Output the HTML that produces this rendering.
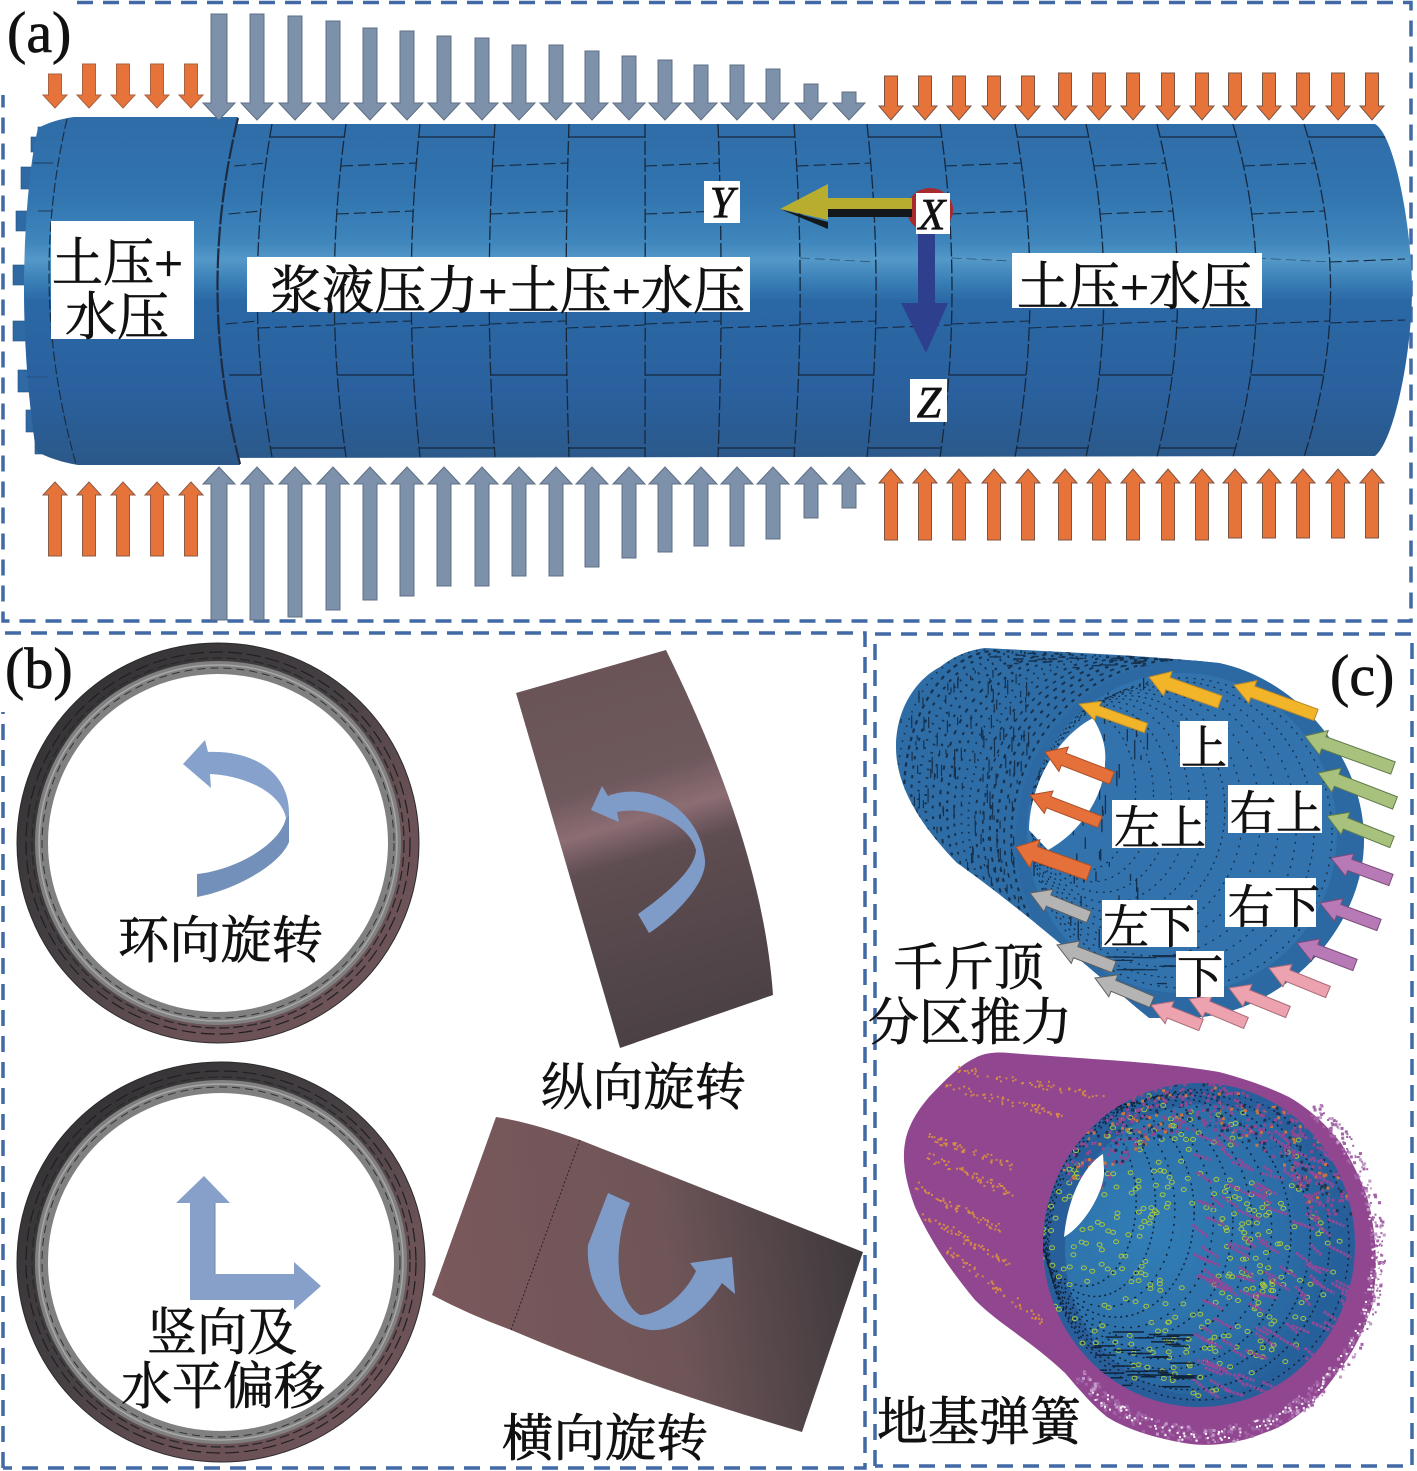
<!DOCTYPE html>
<html lang="zh"><head><meta charset="utf-8"><title>Diagram</title>
<style>html,body{margin:0;padding:0;background:#fff}svg{display:block}
text{font-family:"Liberation Serif","Noto Serif CJK SC",serif;fill:#111;stroke:#111;stroke-width:.7}</style></head>
<body>
<svg id="s" xmlns="http://www.w3.org/2000/svg" width="1417" height="1471" viewBox="0 0 1417 1471">
<defs>
<linearGradient id="tube" gradientUnits="userSpaceOnUse" x1="0" y1="117" x2="0" y2="465">
<stop offset="0" stop-color="#2f6ca8"/><stop offset=".22" stop-color="#3174af"/><stop offset=".36" stop-color="#3f86bc"/><stop offset=".41" stop-color="#5498c8"/><stop offset=".47" stop-color="#3a80b7"/><stop offset=".53" stop-color="#2a68a5"/><stop offset=".8" stop-color="#2a609d"/><stop offset="1" stop-color="#2b5888"/></linearGradient>
<linearGradient id="ring" x1="0" y1="0" x2="1" y2="1"><stop offset="0" stop-color="#2f2e30"/><stop offset=".45" stop-color="#454043"/><stop offset=".7" stop-color="#6b5256"/><stop offset="1" stop-color="#6d5458"/></linearGradient>
<linearGradient id="blk1" gradientUnits="userSpaceOnUse" x1="596" y1="672" x2="700" y2="1022"><stop offset="0" stop-color="#6a5457"/><stop offset=".3" stop-color="#6d585c"/><stop offset=".42" stop-color="#8c6d74"/><stop offset=".52" stop-color="#5e4d51"/><stop offset="1" stop-color="#4b4145"/></linearGradient>
<linearGradient id="blk2" gradientUnits="userSpaceOnUse" x1="432" y1="1300" x2="863" y2="1240"><stop offset="0" stop-color="#7a585b"/><stop offset=".55" stop-color="#6f5558"/><stop offset=".72" stop-color="#5b4a4d"/><stop offset="1" stop-color="#3d383b"/></linearGradient>
<radialGradient id="disc" gradientUnits="userSpaceOnUse" cx="1150" cy="1230" r="190"><stop offset="0" stop-color="#327eb6"/><stop offset=".7" stop-color="#2c6ea8"/><stop offset="1" stop-color="#25609a"/></radialGradient>
<clipPath id="tubeclip"><path d="M200,124H1375C1395,135 1412,230 1412,290C1412,350 1395,440 1375,456L200,458Z"/></clipPath>
<clipPath id="cyl"><path d="M985,648C1060,652 1140,655 1219,663C1300,680 1364,760 1364,840C1364,930 1280,1018 1184,1018L1149,1018C1080,960 1010,900 957,863C925,830 896,790 896,747C896,710 915,680 940,667C955,655 970,650 985,648Z"/></clipPath>
<clipPath id="ins"><ellipse cx="1182" cy="833" rx="155" ry="160"/></clipPath>
<clipPath id="disc2"><ellipse cx="1199" cy="1245" rx="156" ry="162"/></clipPath>
</defs>
<rect width="1417" height="1471" fill="#fff"/>

<!-- frames -->
<g fill="none" stroke="#4169a6" stroke-width="3.5" stroke-dasharray="16 10">
<path d="M77,2.5H1411V621H3V95"/>
<path d="M3,1468V712M5,633H865V1468H3"/>
<path d="M875,1466V634H1412V1466H875"/>
</g>

<!-- (a) tunnel -->
<g id="bumps" fill="#2f6aa5" stroke="#24527f" stroke-width=".6"></g>
<path d="M200,124H1375C1395,135 1412,230 1412,290C1412,350 1395,440 1375,456L200,458Z" fill="url(#tube)"/>
<path d="M74,117L238,117Q196,290 240,465L78,465C60,462 40,455 36,450C28,400 24,340 24,290C24,240 28,170 38,128C50,122 60,119 74,117Z" fill="url(#tube)"/>
<path d="M238,118Q196,290 240,464" fill="none" stroke="#1d2c42" stroke-width="2.2" stroke-dasharray="20 2"/>
<path d="M67,119Q27,290 76,464" fill="none" stroke="#1a2f48" stroke-width="1.2" stroke-dasharray="10 3"/>
<g stroke="#1f3a5c" stroke-width="1.1" fill="none"><path d="M33,163H53M38,211H52"/><path d="M26,377H48" opacity=".5"/></g>
<g id="seams" fill="none" stroke="#16283e" clip-path="url(#tubeclip)"></g>
<g id="arrowsA"></g>

<!-- axes -->
<ellipse cx="930" cy="210" rx="23" ry="22" fill="#a82a2a"/>
<path d="M828,209V217L912,217V209Z" fill="#14181c"/>
<path d="M780,209L828,222V229Z" fill="#14181c"/>
<path d="M780,209L828,184V198L912,198V209L828,209V220Z" fill="#b8ad2e"/>
<path d="M918,231H935V303H948L926,353L901,303H918Z" fill="#2e3f8e"/>

<g fill="#fff">
<rect x="51" y="221" width="143" height="118"/>
<rect x="247" y="257" width="503" height="55"/>
<rect x="1012" y="253" width="250" height="55"/>
<rect x="704" y="181" width="36" height="42"/>
<rect x="916" y="193" width="34" height="41"/>
<rect x="910" y="379" width="37" height="43"/>
</g>
<text x="52" y="281" font-size="52" textLength="131" lengthAdjust="spacingAndGlyphs">土压+</text>
<text x="65" y="335" font-size="52" textLength="104" lengthAdjust="spacingAndGlyphs">水压</text>
<text x="270" y="309" font-size="52" textLength="475" lengthAdjust="spacingAndGlyphs">浆液压力+土压+水压</text>
<text x="1017" y="305" font-size="52" textLength="235" lengthAdjust="spacingAndGlyphs">土压+水压</text>
<g font-size="44" font-style="italic" text-anchor="middle">
<text x="722" y="217">Y</text><text x="932" y="229">X</text><text x="929" y="417">Z</text></g>
<text x="7" y="52" font-size="58">(a)</text>

<!-- (b) -->
<g id="rings"></g>
<path d="M183,764L205,740L208,752C250,750 290,770 289,815L286,818C280,790 240,775 210,774L211,788Z" fill="#86a2cc"/>
<path d="M289,815L289,842C280,865 235,890 197,897L197,874C235,870 280,845 286,818Z" fill="#7390bb"/>
<path d="M516,693L666,650C720,760 765,880 773,995L620,1048Z" fill="url(#blk1)"/>
<path d="M591,810L602,786L608,796C650,780 700,810 705,860C707,885 670,920 649,933L638,914C665,895 695,870 696,850C690,825 650,805 617,812L619,822Z" fill="#7f9cc8"/>
<path d="M496,1117Q530,1122 580,1140Q720,1195 863,1252L802,1432Q640,1385 511,1330Q470,1315 432,1295Z" fill="url(#blk2)"/>
<path d="M580,1140L511,1330" stroke="#2a2226" stroke-width="1" stroke-dasharray="2 2" fill="none"/>
<path d="M608,1193L630,1203C612,1245 615,1300 640,1315C660,1315 685,1295 696,1271L690,1263L732,1257L735,1294L722,1283C705,1310 680,1332 650,1330C615,1325 585,1290 588,1245Z" fill="#7f9cc8"/>
<path d="M190,1300V1203H176L204,1176L230,1203H215V1274H294V1262L321,1286L294,1310V1300Z" fill="#87a0c9"/>
<path d="M215,1203V1274" stroke="#6f88b2" stroke-width="1"/>
<g font-size="51">
<text x="118" y="958" textLength="205" lengthAdjust="spacingAndGlyphs">环向旋转</text>
<text x="541" y="1105" textLength="205" lengthAdjust="spacingAndGlyphs">纵向旋转</text>
<text x="502" y="1456" textLength="206" lengthAdjust="spacingAndGlyphs">横向旋转</text>
<text x="147" y="1350" textLength="150" lengthAdjust="spacingAndGlyphs">竖向及</text>
<text x="121" y="1404" textLength="204" lengthAdjust="spacingAndGlyphs">水平偏移</text>
</g>
<text x="5" y="688" font-size="58">(b)</text>

<!-- (c) top -->
<path d="M985,648C1060,652 1140,655 1219,663C1300,680 1364,760 1364,840C1364,930 1280,1018 1184,1018L1149,1018C1080,960 1010,900 957,863C925,830 896,790 896,747C896,710 915,680 940,667C955,655 970,650 985,648Z" fill="#2e6ca6"/>
<g id="shell" clip-path="url(#cyl)" fill="none" stroke="#17324f"></g>
<ellipse cx="1190" cy="840" rx="174" ry="180" fill="#2c69a3" clip-path="url(#cyl)"/>
<ellipse cx="1182" cy="833" rx="155" ry="160" fill="#3273ae"/>
<g id="inner" clip-path="url(#ins)" fill="none" stroke="#14304d"></g>
<path d="M1093,718C1060,735 1030,780 1029,830L1048,850C1085,830 1105,790 1105,763C1107,745 1100,730 1093,718Z" fill="#fff"/>
<g id="arrowsC"></g>
<g fill="#fff">
<rect x="1180" y="721" width="48" height="46"/>
<rect x="1112" y="800" width="93" height="48"/>
<rect x="1228" y="785" width="94" height="48"/>
<rect x="1225" y="878" width="91" height="49"/>
<rect x="1102" y="900" width="95" height="47"/>
<rect x="1176" y="951" width="48" height="46"/>
</g>
<g font-size="46">
<text x="1181" y="764">上</text>
<text x="1114" y="844">左上</text>
<text x="1230" y="829">右上</text>
<text x="1228" y="923">右下</text>
<text x="1103" y="943">左下</text>
<text x="1177" y="993">下</text>
</g>
<g font-size="51">
<text x="893" y="985" textLength="151" lengthAdjust="spacingAndGlyphs">千斤顶</text>
<text x="868" y="1040" textLength="204" lengthAdjust="spacingAndGlyphs">分区推力</text>
</g>
<text x="1330" y="695" font-size="58">(c)</text>

<!-- (c) bottom -->
<path d="M975,1058C985,1052 1000,1052 1009,1053C1100,1060 1160,1062 1219,1072C1250,1080 1275,1090 1289,1097C1315,1112 1330,1130 1341,1143C1360,1175 1370,1200 1372,1220C1378,1250 1376,1285 1372,1307C1362,1335 1350,1358 1337,1373C1315,1405 1290,1425 1264,1433C1235,1445 1205,1447 1184,1443C1155,1438 1128,1430 1107,1417C1090,1403 1078,1388 1065,1373C1030,1340 1000,1325 975,1300C950,1270 930,1240 915,1207C905,1180 902,1160 905,1143C908,1125 918,1110 929,1097C945,1080 960,1065 975,1058Z" fill="#914790"/>
<g id="specks"></g>
<ellipse cx="1199" cy="1245" rx="156" ry="162" fill="#285f9b"/>
<ellipse cx="1205" cy="1250" rx="140" ry="146" fill="url(#disc)"/>
<g id="inner2" clip-path="url(#disc2)"></g>
<path d="M1103,1154C1085,1165 1068,1195 1064,1237C1085,1225 1105,1190 1104,1170Z" fill="#fff"/>
<text x="877" y="1440" font-size="52" textLength="204" lengthAdjust="spacingAndGlyphs">地基弹簧</text>
</svg>
<script>
(function(){
var NS="http://www.w3.org/2000/svg";
function el(p,n,a){var e=document.createElementNS(NS,n);for(var k in a)e.setAttribute(k,a[k]);document.getElementById(p).appendChild(e);return e}
var seed=12345;function R(){seed=(seed*1664525+1013904223)%4294967296;return seed/4294967296}

/* cutter bumps */
[[38,127,12,14],[31,137,8,15],[21,167,10,22],[16,211,12,20],[13,265,12,20],[13,321,12,20],[18,370,10,22],[26,410,9,22],[35,440,8,14]].forEach(function(b){el("bumps","rect",{x:b[0],y:b[1],width:b[2]+8,height:b[3]})});

/* ring seams */
var xs=[241,272,346,420,495,569,645,718,794,867,940,1015,1086,1157,1233,1304];
function off(x){return (x-640)*0.04}
function X(x0,y){var t=(y-290)/167;return x0+off(x0)*(1-t*t)}
xs.slice(1).forEach(function(x){
 el("seams","path",{d:"M"+x+",124Q"+(x+2*off(x))+",290 "+x+",457","stroke-width":1.3,"stroke-dasharray":"14 3"});
});
var A=[137,325,448],B=[163,211,321,375];
for(var i=0;i<xs.length;i++){
 var a=xs[i],b=i+1<xs.length?xs[i+1]:1405;
 var ys=i==15?[137,259,320]:(i%2?A:B);
 ys.forEach(function(y){
  var solid=y==137||y==448||y==375;
  el("seams","path",{d:"M"+X(a,y)+","+(y+(solid?0:3))+"L"+(i==15?b:X(b,y))+","+y,"stroke-width":solid?1.3:1.1,"stroke-dasharray":solid?"none":"12 5"});
 });
 if(i%2==0&&i>4)el("seams","path",{d:"M"+X(a,259)+",258L"+X(b,262)+",262","stroke-width":.8,"stroke-dasharray":"10 5",opacity:.6});
}

/* vertical arrows */
function varrow(g,x,t0,tip,sw,hw,hl,col,edge){
 var dir=tip>t0?1:-1,h=tip-dir*hl;
 el(g,"polygon",{points:[x-sw,t0,x+sw,t0,x+sw,h,x+hw,h,x,tip,x-hw,h,x-sw,h].join(","),fill:col,stroke:edge,"stroke-width":1});
}
var gx=[219,257,295,333,370,407,444,482,519,556,592,629,665,701,737,773,811,849];
var gt=[14,14,16,21,28,31,36,38,45,45,51,56,60,65,65,69,84,92];
var gb=[620,620,617,610,600,596,586,586,576,576,567,558,552,546,546,539,518,508];
gx.forEach(function(x,i){var s=i==0?8:7;
 varrow("arrowsA",x,gt[i],120,s,16,17,"#7d91ab","#5f6f85");
 varrow("arrowsA",x,gb[i],467,s,16,17,"#7d91ab","#5f6f85");
});
[55,89,123,157,191].forEach(function(x,i){
 varrow("arrowsA",x,i?64:74,108,6.5,12,13,"#e5733a","#a9623f");
 varrow("arrowsA",x,556,482,6.5,12,13,"#e5733a","#8d5a45");
});
[891,925,959,994,1028,1065,1099,1133,1168,1202,1235,1269,1303,1338,1372].forEach(function(x,i){
 varrow("arrowsA",x,i<5?76:73,120,6.5,12,14,"#e5733a","#7d5442");
 varrow("arrowsA",x,i<10?540:538,469,6.5,12,14,"#e5733a","#7d5442");
});

/* rings in (b) */
function ring(cx,cy,r1,r2){
 el("rings","ellipse",{cx:cx,cy:cy,rx:r1,ry:r2,fill:"url(#ring)",stroke:"#2b2a2c","stroke-width":1});
 el("rings","ellipse",{cx:cx,cy:cy,rx:r1-9,ry:r2-9,fill:"none",stroke:"#1f1f21","stroke-width":1.2,"stroke-dasharray":"14 5"});
 el("rings","ellipse",{cx:cx,cy:cy,rx:r1-15,ry:r2-15,fill:"none",stroke:"#2a2a2c","stroke-width":1.4,"stroke-dasharray":"10 4"});
 el("rings","ellipse",{cx:cx,cy:cy,rx:r1-18,ry:r2-18,fill:"#808080"});
 el("rings","ellipse",{cx:cx,cy:cy,rx:r1-22,ry:r2-22,fill:"none",stroke:"#a8a8a8","stroke-width":1.5});
 el("rings","ellipse",{cx:cx,cy:cy,rx:r1-25,ry:r2-25,fill:"none",stroke:"#333","stroke-width":1,"stroke-dasharray":"8 5"});
 el("rings","ellipse",{cx:cx,cy:cy,rx:r1-31,ry:r2-31,fill:"#fff"});
}
ring(218,843,201,200);ring(221,1262,204,200);

/* shell dotted arcs (c) */
for(var t=0;t<=1.0001;t+=.06){
 var cx=985+t*205,cy=790+t*50,rx=88+t*86,ry=140+t*40;
 el("shell","path",{d:"M"+cx+","+(cy-ry)+"A"+rx+","+ry+" 0 0 0 "+cx+","+(cy+ry),"stroke-width":1.6+R(),"stroke-dasharray":(1.5+R()*3)+" "+(4+R()*4)});
}
for(i=0;i<170;i++){var sx=900+R()*130,sy=670+R()*230;
 el("shell","path",{d:"M"+sx.toFixed(1)+","+sy.toFixed(1)+"v"+(2+R()*13).toFixed(1),"stroke-width":1.2});}
for(i=0;i<60;i++){el("shell","path",{d:"M"+(985+R()*240).toFixed(1)+","+(650+R()*18).toFixed(1)+"h"+(3+R()*9).toFixed(1),"stroke-width":1.4});}
/* interior arcs */
for(t=0;t<=1.0001;t+=.085){
 var c2=1182-t*105,c3=833-t*45;
 el("inner","ellipse",{cx:c2,cy:c3,rx:150-t*105,ry:155-t*80,"stroke-width":1.3,"stroke-dasharray":"2 "+(4+R()*3)});
}
for(i=0;i<60;i++){var ang=Math.PI*(.55+R()*.95),rr=.35+R()*.6;
 var x=1150+Math.cos(ang)*130*rr,y=810+Math.sin(ang)*150*rr;
 el("inner","path",{d:"M"+x+","+y+"v"+(4+R()*16),"stroke-width":1.3});}
for(i=0;i<18;i++){el("inner","path",{d:"M"+(1090+R()*80)+","+(955+R()*35)+"h"+(8+R()*22),"stroke-width":1.3});}

/* angled arrows (c) */
function aarrow(x1,y1,x2,y2,col,edge,sw){
 var dx=x2-x1,dy=y2-y1,l=Math.hypot(dx,dy);dx/=l;dy/=l;var nx=-dy,ny=dx,hl=20,hw=sw*2;
 var bx=x2-dx*hl,by=y2-dy*hl;
 var P=[[x1+nx*sw,y1+ny*sw],[bx+nx*sw,by+ny*sw],[bx+nx*hw,by+ny*hw],[x2,y2],[bx-nx*hw,by-ny*hw],[bx-nx*sw,by-ny*sw],[x1-nx*sw,y1-ny*sw]];
 el("arrowsC","polygon",{points:P.map(function(p){return p[0].toFixed(1)+","+p[1].toFixed(1)}).join(" "),fill:col,stroke:edge,"stroke-width":1});
}
var Y="#f2b52a",G="#a8c27e",P="#b87ab7",K="#eda2b0",S="#b4b4b4",O="#e6703a";
[[1146,728,1079,704,Y,"#b8882a",5],[1220,702,1149,677,Y,"#b8882a",6.5],[1316,715,1234,685,Y,"#b8882a",6],
 [1393,768,1305,736,G,"#5f7a4c",6.5],[1395,803,1318,773,G,"#5f7a4c",6.5],[1392,842,1327,816,G,"#5f7a4c",6],
 [1391,880,1331,858,P,"#7a4c7a",6],[1379,925,1320,903,P,"#7a4c7a",6],[1355,965,1297,943,P,"#7a4c7a",6],
 [1328,992,1269,968,K,"#a86c78",6],[1288,1012,1229,988,K,"#a86c78",6],[1246,1023,1189,999,K,"#a86c78",6],[1201,1025,1151,1005,K,"#a86c78",6],
 [1152,1002,1095,978,S,"#5e5e5e",6],[1114,967,1057,945,S,"#5e5e5e",6],[1089,917,1030,893,S,"#5e5e5e",6],
 [1089,873,1016,847,O,"#a85028",7.5],[1100,822,1030,795,O,"#a85028",6],[1112,778,1045,752,O,"#a85028",6.5]
].forEach(function(a){aarrow.apply(null,a)});

/* spring speckles */
function dot(p,x,y,s,c,o){el(p,"rect",{x:x.toFixed(1),y:y.toFixed(1),width:s,height:s,fill:c,opacity:o||1})}
for(i=0;i<520;i++){var th=-.9+R()*3.3,rd=.99+R()*.09;
 dot("specks",1205+Math.cos(th)*166*rd,1250+Math.sin(th)*178*rd,2+(R()*2|0),R()<.7?"#a264a6":"#c39bc8");}
for(i=0;i<140;i++){var th2=-.2+R()*2.5,rd2=1.0+R()*.07;
 dot("specks",1205+Math.cos(th2)*166*rd2,1250+Math.sin(th2)*178*rd2,2,"#fff");}
[[955,1068,1100,1095],[945,1085,1065,1115],[925,1135,1010,1165],[925,1155,1015,1195],[915,1185,1000,1230],[925,1215,1010,1265],[940,1245,1040,1320]].forEach(function(l){
 for(var k=0;k<55;k++){var u=R();dot("specks",l[0]+(l[2]-l[0])*u+R()*8-4,l[1]+(l[3]-l[1])*u+R()*8-4,2,"#d98f3f",.9);}
});
/* dashed arcs inside */
for(t=0;t<=1.0001;t+=.09){
 el("inner2","ellipse",{cx:1199-t*115,cy:1245-t*45,rx:150-t*100,ry:155-t*70,fill:"none",stroke:"#10233a","stroke-width":1.5,"stroke-dasharray":"2 "+(3+R()*3)});
}
for(i=0;i<330;i++){var w=R()*6.28,v=.25+R()*.72;
 el("inner2","ellipse",{cx:(1185+Math.cos(w)*160*v).toFixed(1),cy:(1245+Math.sin(w)*160*v).toFixed(1),rx:2.5,ry:2,fill:"none",stroke:"#a8c83c","stroke-width":1});}
for(i=0;i<130;i++){var x3=1190+R()*160,y3=1130+R()*270;
 el("inner2","path",{d:"M"+x3.toFixed(1)+","+y3.toFixed(1)+"l"+(10+R()*14).toFixed(1)+","+(5+R()*8).toFixed(1),stroke:"#8e4a98","stroke-width":3,"stroke-dasharray":"3 1",fill:"none"});}
for(i=0;i<40;i++){el("inner2","path",{d:"M"+(1085+R()*90).toFixed(1)+","+(1330+R()*70).toFixed(1)+"h"+(8+R()*24).toFixed(1),stroke:"#10233a","stroke-width":1.5,fill:"none"});}
/* magenta overlay on the upper rim of the disc */
for(i=0;i<620;i++){var w2=-2.7+R()*2.5,v2=.72+R()*.3;
 dot("inner2",1199+Math.cos(w2)*156*v2,1245+Math.sin(w2)*162*v2,3,["#914790","#914790","#914790","#2b5f9f","#1e3556","#c8753f"][R()*6|0]);}
})();
</script>
</body></html>
